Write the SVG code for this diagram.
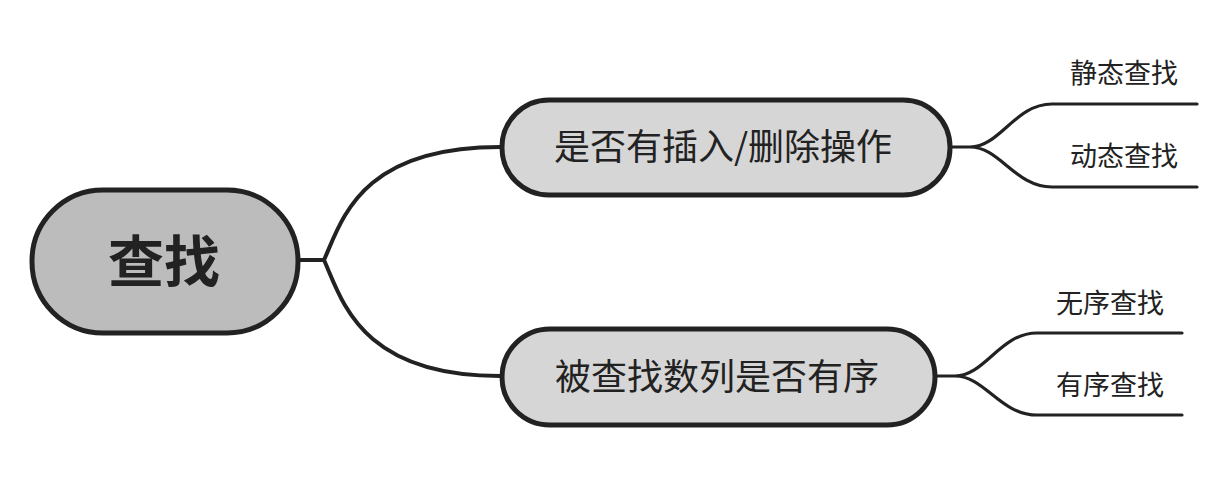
<svg xmlns="http://www.w3.org/2000/svg" width="1231" height="489" viewBox="0 0 1231 489">
<style>
.node rect{stroke:#222;stroke-width:5}
.t{font-family:"Noto Sans CJK SC","Microsoft YaHei",sans-serif;fill:#222;text-anchor:middle;dominant-baseline:central}
.c{fill:none;stroke:#222;stroke-linecap:round}
</style>
<rect width="1231" height="489" fill="#fff"/>
<g id="connectors">
<path class="c" stroke-width="4" d="M300,260 H324 M324,260 C342,220 360,147 500,147 M324,260 C342,300 360,376 500,376"/>
<path class="c" stroke-width="3.2" d="M950,147 H970 C1000,147 1015,104 1052,104 H1197 M970,147 C1000,147 1015,187 1052,187 H1197"/>
<path class="c" stroke-width="3.2" d="M935,376 H955 C985,376 1000,333 1037,333 H1182 M955,376 C985,376 1000,415 1037,415 H1182"/>
</g>
<g id="root" class="node">
<rect x="32" y="190" width="266" height="143" rx="71" fill="#bcbcbc"/>
<text class="t" x="164" y="257" font-size="56" font-weight="bold">查找</text>
</g>
<g id="n1" class="node">
<rect x="502" y="100" width="448" height="95" rx="47" fill="#d6d6d6"/>
<text class="t" x="723" y="144" font-size="36">是否有插入/删除操作</text>
</g>
<g id="n2" class="node">
<rect x="502" y="329" width="433" height="96" rx="48" fill="#d6d6d6"/>
<text class="t" x="717" y="374" font-size="36">被查找数列是否有序</text>
</g>
<g id="l1"><text class="t" x="1124" y="71" font-size="27">静态查找</text></g>
<g id="l2"><text class="t" x="1124" y="154" font-size="27">动态查找</text></g>
<g id="l3"><text class="t" x="1110" y="301" font-size="27">无序查找</text></g>
<g id="l4"><text class="t" x="1110" y="383" font-size="27">有序查找</text></g>
</svg>
